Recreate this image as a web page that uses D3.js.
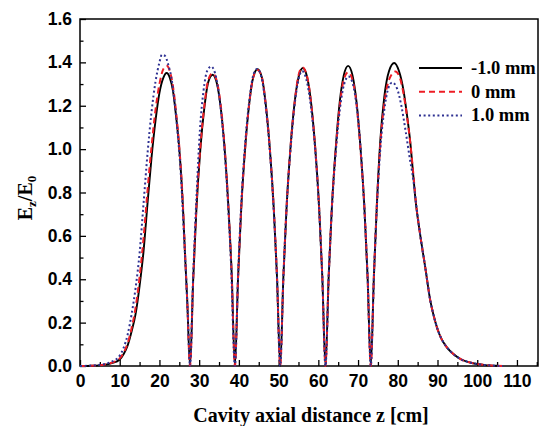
<!DOCTYPE html>
<html>
<head>
<meta charset="utf-8">
<script src="https://cdn.jsdelivr.net/npm/d3@7"></script>
<style>
  body { margin: 0; background: #fff; }
  svg { display: block; }
</style>
</head>
<body>
<div id="chart"></div>
<script>
/* DATA */
const xTicks = [0, 10, 20, 30, 40, 50, 60, 70, 80, 90, 100, 110];
const yTicks = [0.0, 0.2, 0.4, 0.6, 0.8, 1.0, 1.2, 1.4, 1.6];
const seriesNames = ["-1.0 mm", "0 mm", "1.0 mm"];

// z [cm], Ez/E0
const minus1mm = [
  [0,0],[3,0.001],[6,0.005],[8,0.013],[10,0.03],[11,0.055],[12,0.095],[13,0.16],[14,0.24],[15,0.37],
  [16,0.53],[17,0.75],[18,0.96],[19,1.13],[20,1.26],[21,1.33],[21.8,1.351],[22.6,1.33],[23.4,1.27],
  [24.2,1.15],[25,1.0],[25.5,0.87],[25.9,0.74],[26.4,0.53],[27,0.3],[27.7,0],
  [28.5,0.40],[29.3,0.72],[30.3,1.0],[31.3,1.19],[32.3,1.31],[33.4,1.343],[34.5,1.30],[35.5,1.18],
  [36.5,0.98],[37.4,0.72],[38.2,0.42],[39.0,0],
  [39.8,0.41],[40.6,0.73],[41.6,1.01],[42.6,1.21],[43.6,1.33],[44.7,1.369],[45.8,1.33],[46.8,1.20],
  [47.8,1.0],[48.8,0.72],[49.6,0.41],[50.4,0],
  [51.2,0.41],[52.0,0.73],[53.0,1.01],[54.0,1.21],[55.0,1.33],[56.1,1.374],[57.2,1.33],[58.2,1.21],
  [59.2,1.01],[60.2,0.73],[61.0,0.41],[61.8,0],
  [62.6,0.41],[63.4,0.73],[64.4,1.01],[65.4,1.22],[66.4,1.34],[67.5,1.384],[68.6,1.34],[69.6,1.22],
  [70.6,1.01],[71.6,0.73],[72.4,0.41],[73.2,0],
  [74.0,0.42],[74.7,0.73],[75.6,1.04],[76.6,1.24],[77.8,1.36],[79.1,1.397],[80.3,1.36],[81.4,1.275],
  [82.3,1.16],[83.1,1.04],[83.8,0.90],[84.5,0.76],[85.6,0.61],[86.9,0.457],[88.2,0.30],[89.0,0.235],
  [90,0.17],[91,0.125],[92.4,0.085],[94,0.055],[96,0.03],[98,0.017],[100,0.009],[102,0.004],[105,0.001]
];

const zero0mm = [
  [0,0],[3,0.001],[6,0.006],[8,0.015],[10,0.035],[11,0.062],[12,0.105],[13,0.175],[14,0.27],[15,0.41],
  [16,0.59],[17,0.81],[18,1.01],[19,1.18],[20,1.30],[21,1.37],[21.8,1.384],[22.6,1.36],[23.4,1.29],
  [24.2,1.17],[25,1.01],[25.5,0.88],[25.9,0.75],[26.4,0.54],[27,0.3],[27.7,0],
  [28.5,0.40],[29.3,0.73],[30.3,1.01],[31.3,1.20],[32.3,1.32],[33.4,1.35],[34.5,1.31],[35.5,1.19],
  [36.5,0.99],[37.4,0.72],[38.2,0.42],[39.0,0],
  [39.8,0.41],[40.6,0.73],[41.6,1.01],[42.6,1.21],[43.6,1.33],[44.7,1.365],[45.8,1.33],[46.8,1.20],
  [47.8,1.0],[48.8,0.72],[49.6,0.41],[50.4,0],
  [51.2,0.41],[52.0,0.73],[53.0,1.01],[54.0,1.21],[55.0,1.34],[56.0,1.377],[57.1,1.34],[58.2,1.21],
  [59.2,1.01],[60.2,0.73],[61.0,0.41],[61.8,0],
  [62.6,0.41],[63.4,0.73],[64.4,1.0],[65.4,1.2],[66.4,1.32],[67.5,1.355],[68.6,1.32],[69.6,1.21],
  [70.6,1.0],[71.6,0.73],[72.4,0.41],[73.2,0],
  [74.0,0.42],[74.7,0.73],[75.6,1.02],[76.6,1.21],[77.8,1.32],[79.4,1.358],[80.5,1.33],[81.5,1.25],
  [82.4,1.14],[83.2,1.02],[83.9,0.89],[84.6,0.75],[85.6,0.61],[86.9,0.457],[88.2,0.30],[89.0,0.235],
  [90,0.17],[91,0.125],[92.4,0.085],[94,0.055],[96,0.03],[98,0.017],[100,0.009],[103,0.003],[106.5,0]
];

const plus1mm = [
  [0,0],[3,0.002],[6,0.008],[8,0.02],[10,0.048],[11,0.085],[12,0.145],[13,0.24],[14,0.36],[15,0.52],
  [16,0.75],[17,0.98],[18,1.17],[19,1.31],[20,1.40],[20.6,1.435],[21.4,1.43],[22.2,1.39],[23,1.33],
  [23.8,1.22],[24.6,1.07],[25.4,0.88],[26.0,0.67],[26.6,0.45],[27.1,0.25],[27.7,0],
  [28.5,0.42],[29.3,0.77],[30.2,1.09],[31.1,1.27],[32.0,1.36],[33.0,1.381],[34.0,1.35],[35.0,1.25],
  [36.0,1.08],[37.0,0.83],[38.0,0.48],[39.0,0],
  [39.8,0.42],[40.6,0.75],[41.6,1.03],[42.6,1.22],[43.6,1.34],[44.6,1.37],[45.7,1.33],[46.8,1.19],
  [47.8,0.99],[48.8,0.71],[49.6,0.40],[50.4,0],
  [51.2,0.41],[52.0,0.73],[53.0,1.0],[54.0,1.2],[55.0,1.32],[55.9,1.36],[57.0,1.32],[58.1,1.2],
  [59.2,1.0],[60.2,0.72],[61.0,0.41],[61.8,0],
  [62.6,0.41],[63.4,0.72],[64.4,0.99],[65.4,1.18],[66.5,1.30],[67.6,1.335],[68.7,1.30],[69.7,1.19],
  [70.7,0.99],[71.6,0.72],[72.4,0.41],[73.2,0],
  [74.0,0.42],[74.7,0.72],[75.6,1.0],[76.6,1.18],[77.6,1.28],[78.6,1.307],[79.8,1.28],[80.9,1.20],
  [82.0,1.08],[83.0,0.96],[83.9,0.86],[84.6,0.75],[85.6,0.61],[86.9,0.457],[88.2,0.30],[89.0,0.235],
  [90,0.17],[91,0.125],[92.4,0.085],[94,0.055],[96,0.03],[98,0.017],[100,0.009],[103,0.003],[106.5,0]
];

/* LAYOUT */
const width = 544, height = 426;
const margin = { top: 19, right: 6, bottom: 60, left: 80 };

const svg = d3.select("#chart").append("svg")
  .attr("width", width)
  .attr("height", height);

const xScale = d3.scaleLinear().domain([0, 115.3]).range([margin.left, width - margin.right]);
const yScale = d3.scaleLinear().domain([0, 1.6]).range([height - margin.bottom, margin.top]);

const x0 = xScale.range()[0], x1 = xScale.range()[1];
const y0 = yScale.range()[0], y1 = yScale.range()[1];

// axes: ticks point inward
const xAxis = d3.axisBottom(xScale).tickValues(xTicks).tickSize(-6).tickPadding(10).tickFormat(d3.format("d"));
const xMinor = d3.axisBottom(xScale).tickValues(xTicks.map(d => d + 5)).tickSize(-4).tickFormat("");
const yAxis = d3.axisLeft(yScale).tickValues(yTicks).tickSize(-6).tickPadding(8).tickFormat(d3.format(".1f"));
const yMinor = d3.axisLeft(yScale).tickValues(yTicks.slice(0, -1).map(d => d + 0.1)).tickSize(-3.5).tickFormat("");

[xAxis, xMinor].forEach(a => {
  svg.append("g")
    .attr("class", "x-axis")
    .attr("transform", `translate(0,${y0})`)
    .call(a);
});
[yAxis, yMinor].forEach(a => {
  svg.append("g")
    .attr("class", "y-axis")
    .attr("transform", `translate(${x0},0)`)
    .call(a);
});

svg.selectAll(".x-axis .domain, .y-axis .domain").remove();
svg.selectAll(".tick line").attr("stroke", "#000").attr("stroke-width", 1.3);
svg.selectAll(".tick text")
  .attr("font-family", "'Liberation Sans', Arial, sans-serif")
  .attr("font-weight", "bold")
  .attr("font-size", 17.5)
  .attr("fill", "#000");
svg.selectAll(".x-axis .tick text").attr("dy", "0.71em").attr("y", 9);

// frame
svg.append("rect")
  .attr("x", x0).attr("y", y1)
  .attr("width", x1 - x0).attr("height", y0 - y1)
  .attr("fill", "none")
  .attr("stroke", "#000")
  .attr("stroke-width", 1.5);

/* LINES */
const line = d3.line()
  .x(d => xScale(d[0]))
  .y(d => yScale(d[1]))
  .curve(d3.curveMonotoneX);

const series = [
  { name: seriesNames[0], data: minus1mm, color: "#000000", dash: null, w: 1.9 },
  { name: seriesNames[1], data: zero0mm, color: "#ed1c24", dash: "6,4", w: 2 },
  { name: seriesNames[2], data: plus1mm, color: "#2e3192", dash: "2,2.6", w: 2 }
];

svg.selectAll("path.series")
  .data(series)
  .join("path")
  .attr("class", "series")
  .attr("d", d => line(d.data))
  .attr("fill", "none")
  .attr("stroke", d => d.color)
  .attr("stroke-width", d => d.w)
  .attr("stroke-dasharray", d => d.dash);

/* LEGEND */
const legend = svg.append("g").attr("transform", "translate(419,68)");
const items = legend.selectAll("g")
  .data(series)
  .join("g")
  .attr("transform", (d, i) => `translate(0,${i * 23.7})`);
items.append("line")
  .attr("x1", 0).attr("x2", 43)
  .attr("stroke", d => d.color)
  .attr("stroke-width", d => d.w)
  .attr("stroke-dasharray", d => d.dash);
items.append("text")
  .attr("x", 52)
  .attr("y", 6)
  .attr("font-family", "'Liberation Serif', 'Times New Roman', serif")
  .attr("font-weight", "bold")
  .attr("font-size", 18.5)
  .text(d => d.name);

/* AXIS TITLES */
svg.append("text")
  .attr("x", (x0 + x1) / 2 + 2)
  .attr("y", 422)
  .attr("text-anchor", "middle")
  .attr("font-family", "'Liberation Serif', 'Times New Roman', serif")
  .attr("font-weight", "bold")
  .attr("font-size", 20)
  .text("Cavity axial distance z [cm]");

const yTitle = svg.append("text")
  .attr("transform", "translate(32,198) rotate(-90)")
  .attr("text-anchor", "middle")
  .attr("font-family", "'Liberation Serif', 'Times New Roman', serif")
  .attr("font-weight", "bold")
  .attr("font-size", 20);
yTitle.append("tspan").text("E");
yTitle.append("tspan").attr("font-size", 13).attr("dy", 4).text("z");
yTitle.append("tspan").attr("dy", -4).text("/E");
yTitle.append("tspan").attr("font-size", 13).attr("dy", 4).text("0");
</script>
</body>
</html>
